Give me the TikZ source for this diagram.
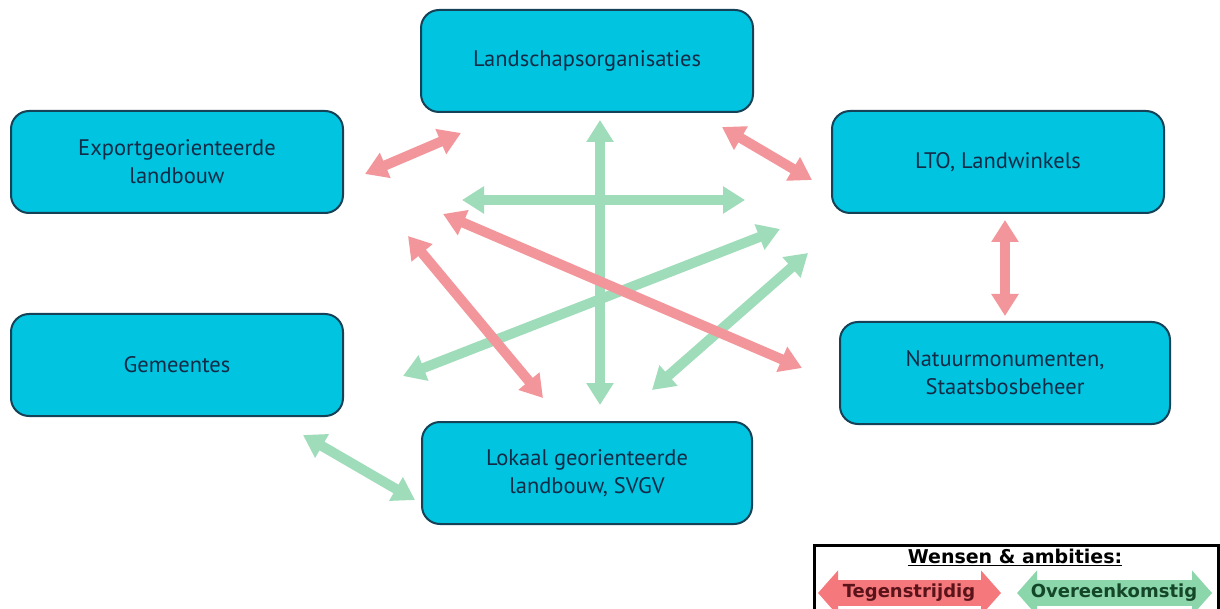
\documentclass[tikz,border=0pt]{standalone}
\usepackage{fontspec}
\setmainfont{PT Sans}
\newfontfamily\legfont{DejaVu Sans}
\usetikzlibrary{arrows.meta}
\definecolor{boxfill}{RGB}{0,196,224}
\definecolor{boxline}{RGB}{22,66,88}
\definecolor{boxtext}{RGB}{18,44,72}
\definecolor{redarr}{RGB}{243,150,155}
\definecolor{greenarr}{RGB}{158,220,186}
\definecolor{legred}{RGB}{245,120,125}
\definecolor{leggreen}{RGB}{140,214,172}
\definecolor{legredtext}{RGB}{90,20,25}
\definecolor{leggreentext}{RGB}{20,70,40}
\tikzset{
  box/.style={draw=boxline, line width=2pt, fill=boxfill, rounded corners=18pt,
    minimum width=332pt, minimum height=102pt, align=center, text=boxtext,
    font=\fontsize{22.5}{28}\selectfont, inner sep=0pt},
  relarrow/.style={line width=10pt,
    {Triangle[width=26pt,length=22pt]}-{Triangle[width=26pt,length=22pt]}},
  redrel/.style={relarrow, draw=redarr},
  greenrel/.style={relarrow, draw=greenarr},
  legarrow/.style={line width=26pt,
    {Triangle[width=44pt,length=20pt]}-{Triangle[width=44pt,length=20pt]}},
  legtext/.style={font=\legfont\bfseries\fontsize{18}{20}\selectfont, inner sep=0pt}
}
\begin{document}
\begin{tikzpicture}[x=1pt,y=-1pt]
\clip (0,0) rectangle (1220,609);
\fill[white] (0,0) rectangle (1220,609);

% boxes
\node[box] (land) at (587,61) {Landschapsorganisaties};
\node[box] (exp)  at (177,162) {Exportgeorienteerde\\landbouw};
\node[box] (lto)  at (998,162) {LTO, Landwinkels};
\node[box] (gem)  at (177,365) {Gemeentes};
\node[box, minimum width=330pt] (nat) at (1005,373) {Natuurmonumenten,\\Staatsbosbeheer};
\node[box, minimum width=330pt] (lok) at (587,473) {Lokaal georienteerde\\landbouw, SVGV};

% arrow end points
\coordinate (g1a) at (600,120);  \coordinate (g1b) at (600,405);
\coordinate (g2a) at (462,200);  \coordinate (g2b) at (745,200);
\coordinate (g3a) at (403,376);  \coordinate (g3b) at (780,229);
\coordinate (g4a) at (652,390);  \coordinate (g4b) at (808,253);
\coordinate (g5a) at (303,435);  \coordinate (g5b) at (415,500);
\coordinate (r1a) at (365,174);  \coordinate (r1b) at (461,133);
\coordinate (r2a) at (722,127);  \coordinate (r2b) at (812,180);
\coordinate (r3a) at (1005,220); \coordinate (r3b) at (1005,316);
\coordinate (r4a) at (443,214);  \coordinate (r4b) at (802,368);
\coordinate (r5a) at (408,236);  \coordinate (r5b) at (543,398);

% green relations
\draw[greenrel] (g1a) -- (g1b);
\draw[greenrel] (g2a) -- (g2b);
\draw[greenrel] (g3a) -- (g3b);
\draw[greenrel] (g4a) -- (g4b);
\draw[greenrel] (g5a) -- (g5b);
% red relations
\draw[redrel] (r1a) -- (r1b);
\draw[redrel] (r2a) -- (r2b);
\draw[redrel] (r3a) -- (r3b);
\draw[redrel] (r4a) -- (r4b);
\draw[redrel] (r5a) -- (r5b);

% legend
\node[draw=black, line width=3pt, minimum width=404pt, minimum height=76pt, inner sep=0pt, anchor=north west] (leg) at (813,544) {};
\node[legtext, font=\legfont\bfseries\fontsize{19}{21}\selectfont, text=black] (legtitle) at (1015,557) {\underline{Wensen \& ambities:}};
\coordinate (lra) at (818,593);  \coordinate (lrb) at (1001,593);
\coordinate (lga) at (1017,593); \coordinate (lgb) at (1212,593);
\draw[legarrow, draw=legred] (lra) -- (lrb);
\draw[legarrow, draw=leggreen] (lga) -- (lgb);
\node[legtext, text=legredtext] (legr) at (909,593) {Tegenstrijdig};
\node[legtext, text=leggreentext] (legg) at (1114,593) {Overeenkomstig};
\end{tikzpicture}
\end{document}
